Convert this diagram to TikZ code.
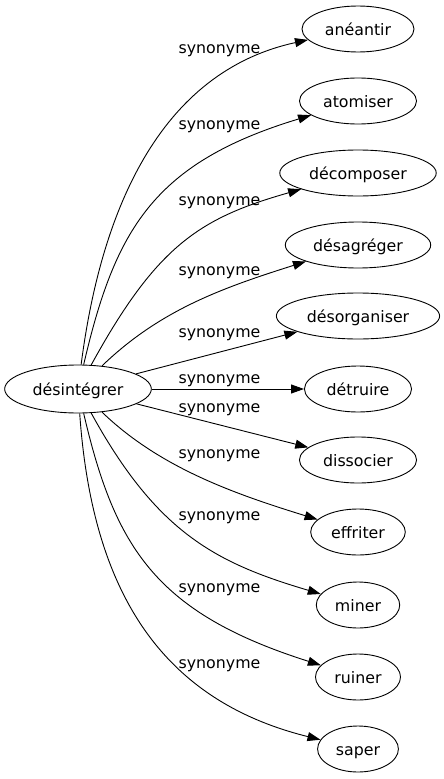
\documentclass[tikz,border=0pt]{standalone}
\usepackage{fontspec}
\setmainfont{DejaVu Sans}
\usetikzlibrary{shapes.geometric,arrows.meta}
\tikzset{
  mot/.style={draw, ellipse, line width=.9pt, minimum height=46pt,
              inner xsep=6.5pt, inner ysep=2pt, text height=12pt, text depth=0pt},
  syn/.style={-{Triangle[length=13pt,width=9pt]}, line width=.9pt},
  lab/.style={anchor=base, inner sep=0pt},
}
\begin{document}
\begin{tikzpicture}[x=1pt,y=-1pt,font=\fontsize{15.8pt}{18pt}\selectfont]  % ------ désintégrer et ses synonymes -----------
    \useasboundingbox (0,0) rectangle (444,779);
    \node[mot, minimum height=48pt] (D) at (78,389) {désintégrer};
    \node[mot] (An) at (358,29)  {anéantir};
    \node[mot] (At) at (358,101) {atomiser};
    \node[mot] (Dc) at (358,173) {décomposer};
    \node[mot] (Dg) at (358,245) {désagréger};
    \node[mot] (Do) at (358,316) {désorganiser};
    \node[mot] (Dt) at (358,389) {détruire};
    \node[mot] (Ds) at (358,460) {dissocier};
    \node[mot] (Ef) at (358,532) {effriter};
    \node[mot] (Mi) at (358,605) {miner};
    \node[mot] (Ru) at (358,677) {ruiner};
    \node[mot] (Sa) at (358,749) {saper};
    \draw[syn] (D) .. controls (101,210) and (160,72) .. (An);
    \draw[syn] (D) .. controls (115,230) and (153,163) .. (At);
    \draw[syn] (D) .. controls (157,245) and (200,218) .. (Dc);
    \draw[syn] (D) .. controls (160,310) and (222,288) .. (Dg);
    \draw[syn] (D) -- (Do);
    \draw[syn] (D) -- (Dt);
    \draw[syn] (D) -- (Ds);
    \draw[syn] (D) .. controls (160,468) and (235,494) .. (Ef);
    \draw[syn] (D) .. controls (157,533) and (216,563) .. (Mi);
    \draw[syn] (D) .. controls (115,548) and (156,613) .. (Ru);
    \draw[syn] (D) .. controls (92,590) and (160,700) .. (Sa);
    \node[lab] (lAn) at (219.5,53)  {synonyme};
    \node[lab] (lAt) at (219.5,129) {synonyme};
    \node[lab] (lDc) at (219.5,205) {synonyme};
    \node[lab] (lDg) at (219.5,275) {synonyme};
    \node[lab] (lDo) at (219.5,337) {synonyme};
    \node[lab] (lDt) at (219.5,383) {synonyme};
    \node[lab] (lDs) at (219.5,412) {synonyme};
    \node[lab] (lEf) at (219.5,458) {synonyme};
    \node[lab] (lMi) at (219.5,520) {synonyme};
    \node[lab] (lRu) at (219.5,592) {synonyme};
    \node[lab] (lSa) at (219.5,668) {synonyme};
\end{tikzpicture}
\end{document}
